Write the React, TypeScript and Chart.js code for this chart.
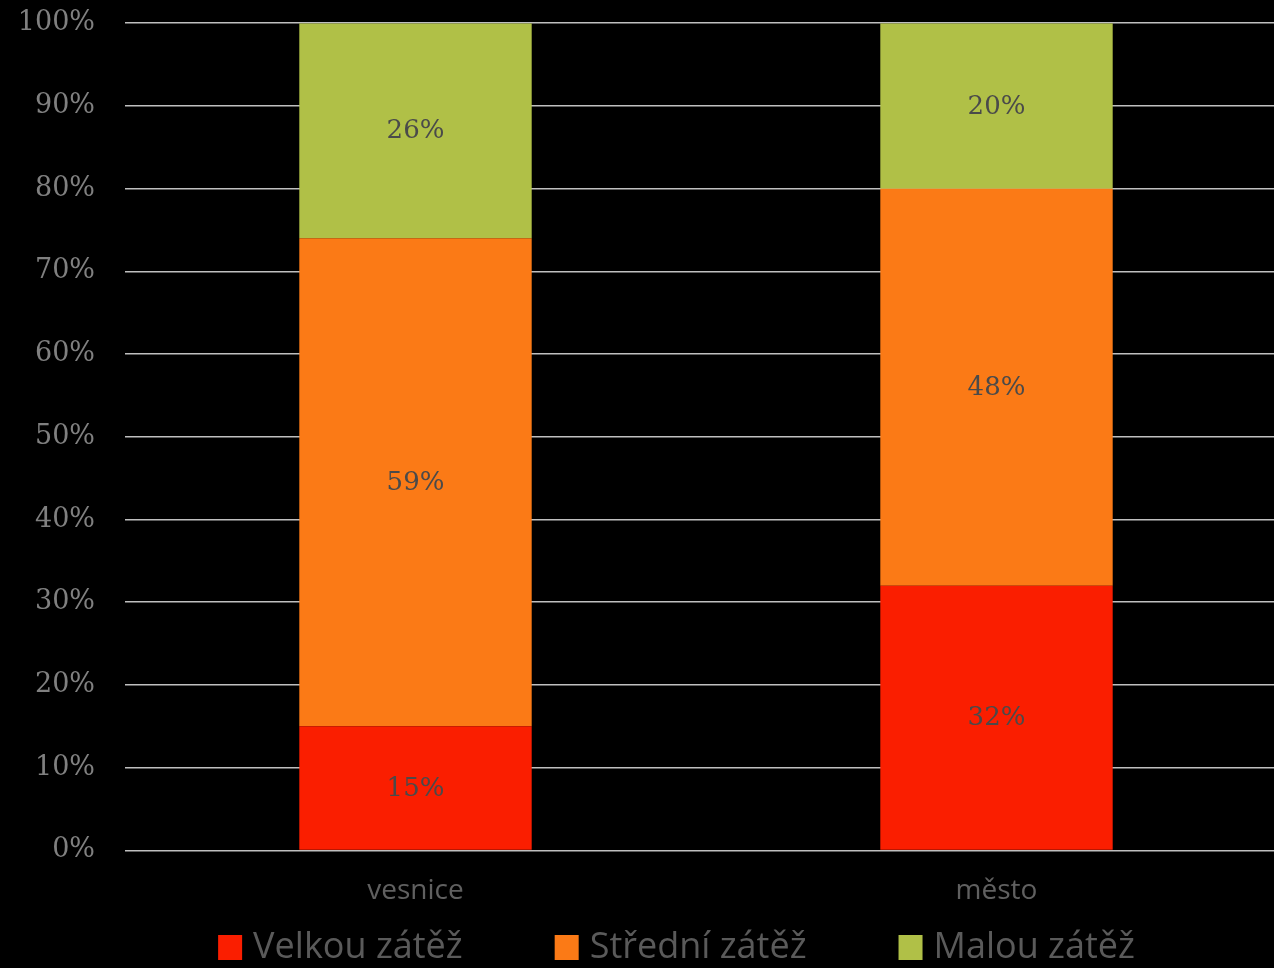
import React, { useEffect, useRef } from "react";
import { Chart, registerables } from "chart.js";

Chart.register(...registerables);

const categories = ["vesnice", "město"];
const seriesNames = ["Velkou zátěž", "Střední zátěž", "Malou zátěž"];
const velkou = [15, 32];
const stredni = [59, 48];
const malou = [26, 20];
const seriesColors = ["#FA1E00", "#FB7A16", "#B0C047"];
const yTicks = [0, 10, 20, 30, 40, 50, 60, 70, 80, 90, 100];

const SHIFT = 23;
const CANVAS_W = 1353;
const CANVAS_H = 968 + SHIFT;

const valueLabels = {
  id: "valueLabels",
  afterDatasetsDraw(chart: any) {
    const ctx = chart.ctx;
    ctx.save();
    ctx.font = "26px 'DejaVu Serif'";
    ctx.fillStyle = "#4a4a4a";
    ctx.textAlign = "center";
    ctx.textBaseline = "middle";
    chart.data.datasets.forEach((ds: any, di: number) => {
      const meta = chart.getDatasetMeta(di);
      meta.data.forEach((bar: any, i: number) => {
        const v = ds.data[i];
        const cy = (bar.y + bar.base) / 2;
        ctx.fillText(`${v}%`, bar.x, cy + 1);
      });
    });
    ctx.restore();
  },
};

const customLegend = {
  id: "customLegend",
  afterDraw(chart: any) {
    const ctx = chart.ctx;
    ctx.save();
    ctx.font = "36px 'Open Sans'";
    const box = 24;
    const gapBoxText = 11;
    const gapItems = 92;
    const items = chart.data.datasets.map((ds: any) => ({
      text: ds.label,
      color: ds.backgroundColor,
      w: box + gapBoxText + ctx.measureText(ds.label).width,
    }));
    const total =
      items.reduce((s: number, it: any) => s + it.w, 0) + gapItems * (items.length - 1);
    let x = chart.width / 2 - total / 2;
    const cy = chart.height - 21;
    ctx.textBaseline = "middle";
    ctx.textAlign = "left";
    items.forEach((it: any) => {
      ctx.fillStyle = it.color;
      ctx.fillRect(x, cy - box / 2, box, box + 1);
      ctx.fillStyle = "#5a5a5a";
      ctx.fillText(it.text, x + box + gapBoxText, cy + 1);
      x += it.w + gapItems;
    });
    ctx.restore();
  },
};

export default function App() {
  const ref = useRef<HTMLCanvasElement>(null);

  useEffect(() => {
    if (!ref.current) return;
    const seriesData = [velkou, stredni, malou];
    const chart = new Chart(ref.current, {
      type: "bar",
      data: {
        labels: categories,
        datasets: seriesNames.map((name, i) => ({
          label: name,
          data: seriesData[i],
          backgroundColor: seriesColors[i],
          borderWidth: 0,
          categoryPercentage: 1,
          barPercentage: 0.4,
        })),
      },
      options: {
        animation: false,
        responsive: false,
        maintainAspectRatio: false,
        layout: { padding: { top: 0, right: 66, bottom: 36, left: 0 } },
        plugins: {
          legend: { display: false },
          tooltip: { enabled: false },
        },
        scales: {
          x: {
            stacked: true,
            grid: { display: false, drawTicks: false },
            border: { display: false },
            ticks: {
              color: "#606060",
              font: { family: "'Open Sans'", size: 28 },
              padding: 24,
            },
          },
          y: {
            stacked: true,
            min: 0,
            max: 100,
            afterFit(scale: any) {
              scale.width = 125;
            },
            afterBuildTicks(scale: any) {
              scale.ticks = yTicks.map((v) => ({ value: v }));
            },
            grid: { color: "#bfbfbf", lineWidth: 1.5, drawTicks: false },
            border: { display: false },
            ticks: {
              color: "#808080",
              font: { family: "'DejaVu Serif'", size: 27 },
              padding: 30,
              callback: (v: any) => `${v}%`,
            },
          },
        },
      },
      plugins: [valueLabels, customLegend],
    });
    return () => chart.destroy();
  }, []);

  return (
    <div
      style={{
        position: "fixed",
        left: 0,
        top: 0,
        width: 1274,
        height: 968,
        overflow: "hidden",
        background: "#000",
      }}
    >
      <canvas
        ref={ref}
        width={CANVAS_W}
        height={CANVAS_H}
        style={{ display: "block", width: CANVAS_W, height: CANVAS_H, marginTop: -SHIFT }}
      />
    </div>
  );
}
